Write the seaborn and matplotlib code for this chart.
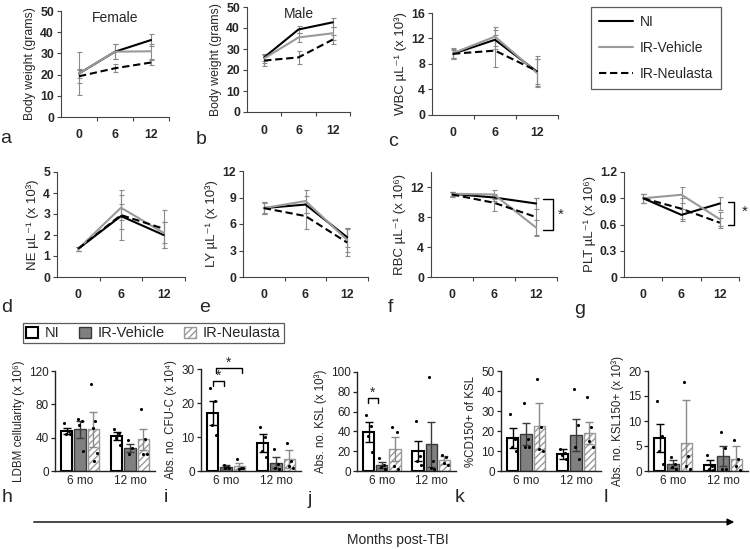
import numpy as np
import pandas as pd
import matplotlib
matplotlib.use("Agg")
import matplotlib.pyplot as plt
import seaborn as sns
from matplotlib.patches import Patch
from matplotlib.lines import Line2D

sns.set_theme(style="ticks")
plt.rcParams["font.family"] = ["Liberation Sans", "DejaVu Sans"]

GROUPS = ["NI", "IR-Vehicle", "IR-Neulasta"]
MONTHS = ["0", "6", "12"]
TIMES = ["6 mo", "12 mo"]

# ---------------- line panels (mean, sem) ----------------
bw_female = {"NI": [20.5, 30.8, 36.3], "IR-Vehicle": [20.5, 30.8, 31.0], "IR-Neulasta": [19.2, 23.0, 25.7]}
bw_female_err = {"NI": [2.0, 3.5, 3.0], "IR-Vehicle": [10.0, 3.5, 3.5], "IR-Neulasta": [3.0, 2.0, 1.0]}
bw_male = {"NI": [26.0, 39.3, 42.7], "IR-Vehicle": [25.5, 35.5, 37.5], "IR-Neulasta": [24.5, 26.0, 34.5]}
bw_male_err = {"NI": [1.5, 1.5, 2.0], "IR-Vehicle": [2.0, 2.0, 3.0], "IR-Neulasta": [2.5, 3.0, 2.0]}
wbc = {"NI": [9.6, 11.8, 6.8], "IR-Vehicle": [9.7, 12.3, 6.6], "IR-Neulasta": [9.6, 10.1, 6.9]}
wbc_err = {"NI": [0.8, 1.5, 2.0], "IR-Vehicle": [0.8, 1.5, 2.2], "IR-Neulasta": [0.6, 2.5, 2.3]}
ne = {"NI": [1.35, 2.9, 2.0], "IR-Vehicle": [1.35, 3.3, 2.1], "IR-Neulasta": [1.35, 2.95, 2.3]}
ne_err = {"NI": [0.1, 0.6, 0.6], "IR-Vehicle": [0.1, 0.6, 0.5], "IR-Neulasta": [0.1, 1.2, 0.9]}
ly = {"NI": [7.8, 8.2, 4.5], "IR-Vehicle": [7.8, 8.6, 4.2], "IR-Neulasta": [7.8, 6.9, 3.9]}
ly_err = {"NI": [0.7, 1.0, 1.1], "IR-Vehicle": [0.6, 1.3, 1.4], "IR-Neulasta": [0.7, 1.5, 1.5]}
rbc = {"NI": [11.1, 10.6, 9.8], "IR-Vehicle": [11.1, 11.0, 6.6], "IR-Neulasta": [11.0, 9.9, 8.0]}
rbc_err = {"NI": [0.3, 0.5, 0.7], "IR-Vehicle": [0.3, 0.6, 1.0], "IR-Neulasta": [0.3, 1.1, 2.5]}
plt_ = {"NI": [0.9, 0.71, 0.84], "IR-Vehicle": [0.9, 0.94, 0.66], "IR-Neulasta": [0.9, 0.78, 0.62]}
plt_err = {"NI": [0.05, 0.07, 0.07], "IR-Vehicle": [0.05, 0.09, 0.08], "IR-Neulasta": [0.05, 0.12, 0.06]}

# ---------------- bar panels: means [NI, IR-Vehicle, IR-Neulasta] ----------------
ldbm_6, ldbm_12 = [48, 50, 50], [42, 28, 38]
ldbm_sem6, ldbm_sem12 = [4, 10, 21], [5, 5, 13]
ldbm_dots6 = [[58, 48, 45, 44], [62, 60, 55, 24], [105, 60, 52, 22, 12]]
ldbm_dots12 = [[51, 46, 40, 31], [37, 28, 20], [75, 38, 20, 20]]

cfu_6, cfu_12 = [17.1, 1.2, 1.5], [8.2, 2.5, 3.5]
cfu_sem6, cfu_sem12 = [3.6, 0.5, 1.0], [2.6, 1.6, 2.7]
cfu_dots6 = [[24.5, 20.5, 13.5, 10.5], [1.8, 1.2, 0.8, 1.0], [3.5, 1.0, 0.5, 0.8]]
cfu_dots12 = [[12.8, 10.0, 6.0, 4.0], [6.5, 2.0, 1.0, 0.5], [8.2, 3.0, 1.5, 1.0]]

ksl_6, ksl_12 = [39, 6, 22], [20.5, 27, 11]
ksl_sem6, ksl_sem12 = [10, 3, 12], [10, 23, 4]
ksl_dots6 = [[57, 45, 35, 19], [13, 6, 4, 2], [44, 39, 5, 2]]
ksl_dots12 = [[51, 15, 10, 6], [95, 10, 3, 2], [16, 14, 8, 6]]

cd150_6, cd150_12 = [16.5, 18.5, 22.5], [8.5, 18, 19]
cd150_sem6, cd150_sem12 = [5, 5.5, 11.5], [2.5, 8, 5.5]
cd150_dots6 = [[28.5, 16, 12, 10], [34, 16, 12, 12], [46, 22, 11, 10]]
cd150_dots12 = [[11, 9, 8, 6], [41, 23, 12, 6], [37, 22, 15, 12]]

ksl150_6, ksl150_12 = [6.6, 1.4, 5.6], [1.2, 3.1, 2.5]
ksl150_sem6, ksl150_sem12 = [2.8, 0.8, 8.6], [1.0, 2.0, 2.6]
ksl150_dots6 = [[14.1, 7, 4, 1.5], [2.8, 1.5, 0.8, 0.5], [17.8, 3, 1, 0.5]]
ksl150_dots12 = [[3.2, 1, 0.5, 0.3], [7.8, 4.6, 0.5, 0.4], [6.2, 2.5, 1, 0.3]]

W, H = 750, 549
fig = plt.figure(figsize=(7.5, 5.49), dpi=100)


def px_axes(l, t, r, b):
    return fig.add_axes([l / W, 1 - b / H, (r - l) / W, (b - t) / H])


LINE_COLORS = {"NI": "black", "IR-Vehicle": "#9a9a9a", "IR-Neulasta": "black"}
DASHES = {"NI": "", "IR-Vehicle": "", "IR-Neulasta": (3.5, 1.8)}


def line_panel(box, means, errs, ylabel, ylim, yticks, ylabfmt, ylabsize=9.5, title=None, title_xy=None):
    ax = px_axes(*box)
    rows = []
    for g in GROUPS:
        for i, m in enumerate(MONTHS):
            rows.append({"pos": i, "value": means[g][i], "group": g})
    df = pd.DataFrame(rows)
    for g in GROUPS:
        ax.errorbar(range(3), means[g], yerr=errs[g], fmt="none", ecolor="#8a8a8a",
                    elinewidth=0.8, capsize=1.8, capthick=0.8, zorder=1)
    sns.lineplot(data=df, x="pos", y="value", hue="group", style="group",
                 hue_order=GROUPS, style_order=GROUPS, palette=LINE_COLORS,
                 dashes=DASHES, linewidth=1.5, ax=ax, legend=False, zorder=3)
    ax.set_xlim(-0.5, 2.5)
    ax.set_ylim(*ylim)
    ax.set_xticks(range(3))
    ax.set_xticklabels(MONTHS, fontweight="bold", fontsize=8.8)
    ax.tick_params(axis="x", length=0, pad=9)
    ax.set_xticks([0.5, 1.5, 2.5], minor=True)
    ax.tick_params(axis="x", which="minor", length=3, width=0.8, direction="out", color="#444")
    ax.set_yticks(yticks)
    ax.set_yticklabels([ylabfmt(v) for v in yticks], fontweight="bold", fontsize=8.8)
    ax.tick_params(axis="y", length=3, width=0.8, pad=2, color="#444")
    ax.set_xlabel("")
    ax.set_ylabel(ylabel, fontsize=ylabsize, labelpad=3)
    for s in ["top", "right"]:
        ax.spines[s].set_visible(False)
    for s in ["left", "bottom"]:
        ax.spines[s].set_linewidth(0.8)
        ax.spines[s].set_color("#444")
    if title:
        ax.text(title_xy[0], title_xy[1], title, transform=ax.transAxes, ha="center", va="top", fontsize=10)
    return ax


fint = lambda v: f"{v:g}"
ax_a = line_panel((61, 11, 169, 117), bw_female, bw_female_err, "Body weight (grams)", (0, 50),
                  [0, 10, 20, 30, 40, 50], fint, 8.8, "Female", (0.5, 1.0))
ax_b = line_panel((247, 7, 350, 112), bw_male, bw_male_err, "Body weight (grams)", (0, 50),
                  [0, 10, 20, 30, 40, 50], fint, 8.8, "Male", (0.5, 1.0))
ax_c = line_panel((432, 13, 558, 115), wbc, wbc_err, "WBC µL⁻¹ (x 10³)", (0, 16),
                  [0, 4, 8, 12, 16], fint)
ax_d = line_panel((57, 172, 185, 277), ne, ne_err, "NE µL⁻¹ (x 10³)", (0, 5),
                  [0, 1, 2, 3, 4, 5], fint)
ax_e = line_panel((243, 171, 368, 277), ly, ly_err, "LY µL⁻¹ (x 10³)", (0, 12),
                  [0, 3, 6, 9, 12], fint)
ax_f = line_panel((431, 172, 557, 277), rbc, rbc_err, "RBC µL⁻¹ (x 10⁶)", (0, 14),
                  [0, 4, 8, 12], fint)
ax_g = line_panel((624, 172, 739, 277), plt_, plt_err, "PLT µL⁻¹ (x 10⁶)", (0, 1.2),
                  [0, 0.3, 0.6, 0.9, 1.2], lambda v: "0" if v == 0 else f"{v:.1f}")

# significance brackets (f, g)
ax_f.plot([2.17, 2.4, 2.4, 2.17], [10.4, 10.4, 6.25, 6.25], color="black", lw=1, clip_on=False)
ax_f.text(2.6, 8.3, "*", fontsize=11, ha="center", va="center")
ax_g.plot([2.2, 2.37, 2.37, 2.2], [0.86, 0.86, 0.6, 0.6], color="black", lw=1, clip_on=False)
ax_g.text(2.65, 0.74, "*", fontsize=11, ha="center", va="center")

# top legend
line_handles = [Line2D([], [], color=LINE_COLORS[g], lw=1.5,
                       linestyle=(0, DASHES[g]) if DASHES[g] else "-") for g in GROUPS]
leg1 = fig.legend(line_handles, GROUPS, loc="upper left", bbox_to_anchor=(591 / W, 1 - 7 / H),
                  borderaxespad=0, frameon=True, fancybox=False, edgecolor="#333", fontsize=10,
                  handlelength=2.4, labelspacing=0.85, borderpad=0.6, handletextpad=0.5)
leg1.get_frame().set_linewidth(0.9)

# ---------------- bar panels ----------------
BAR_STYLE = {
    "NI": dict(facecolor="white", edgecolor="black", lw=1.5, hatch=None),
    "IR-Vehicle": dict(facecolor="#808080", edgecolor="#3a3a3a", lw=1.0, hatch=None),
    "IR-Neulasta": dict(facecolor="white", edgecolor="#9a9a9a", lw=1.0, hatch="/////"),
}
ERR_COLOR = {"NI": "black", "IR-Vehicle": "#3a3a3a", "IR-Neulasta": "#8a8a8a"}
DOT_OFFSETS = [-0.22, 0.18, -0.05, 0.28, 0.05]


def bar_panel(box, m6, m12, s6, s12, d6, d12, ylabel, yticks):
    ax = px_axes(*box)
    df = pd.DataFrame({"time": [TIMES[0]] * 3 + [TIMES[1]] * 3,
                       "group": GROUPS * 2, "value": list(m6) + list(m12)})
    sns.barplot(data=df, x="time", y="value", hue="group", hue_order=GROUPS, order=TIMES,
                errorbar=None, width=0.8, gap=0.15, ax=ax, legend=False)
    means = [m6, m12]
    sems = [s6, s12]
    dots = [d6, d12]
    conts = list(ax.containers)[:3]
    for gi, cont in enumerate(conts):
        g = GROUPS[gi]
        st = BAR_STYLE[g]
        for ti, bar in enumerate(cont):
            bar.set_facecolor(st["facecolor"])
            bar.set_edgecolor(st["edgecolor"])
            bar.set_linewidth(st["lw"])
            if st["hatch"]:
                bar.set_hatch(st["hatch"])
            cx = bar.get_x() + bar.get_width() / 2
            bw = bar.get_width()
            ax.errorbar(cx, means[ti][gi], yerr=sems[ti][gi], fmt="none", ecolor=ERR_COLOR[g],
                        elinewidth=1.0, capsize=3, capthick=1.0, zorder=4)
            dv = dots[ti][gi]
            xs = [cx + DOT_OFFSETS[k % len(DOT_OFFSETS)] * bw for k in range(len(dv))]
            ax.scatter(xs, dv, s=5, color="black", zorder=5, linewidths=0)
    ax.set_xlim(-0.5, 1.5)
    ax.set_ylim(0, yticks[-1])
    ax.set_yticks(yticks)
    ax.set_yticklabels([f"{v:g}" for v in yticks], fontsize=8.5, color="#222")
    ax.tick_params(axis="y", length=3, width=0.9, pad=1.5, color="#222")
    ax.tick_params(axis="x", length=0, pad=3, labelsize=8.5, labelcolor="#222")
    ax.set_xlabel("")
    ax.set_ylabel(ylabel, fontsize=8.3, labelpad=3, color="#222")
    for s in ["top", "right"]:
        ax.spines[s].set_visible(False)
    for s in ["left", "bottom"]:
        ax.spines[s].set_linewidth(1.0)
        ax.spines[s].set_color("#222")
    return ax


ax_h = bar_panel((55, 371, 155, 471), ldbm_6, ldbm_12, ldbm_sem6, ldbm_sem12, ldbm_dots6, ldbm_dots12,
                 "LDBM cellularity (x 10⁶)", [0, 40, 80, 120])
ax_i = bar_panel((201, 369, 301, 471), cfu_6, cfu_12, cfu_sem6, cfu_sem12, cfu_dots6, cfu_dots12,
                 "Abs. no. CFU-C (x 10⁴)", [0, 10, 20, 30])
ax_j = bar_panel((357, 372, 456, 471), ksl_6, ksl_12, ksl_sem6, ksl_sem12, ksl_dots6, ksl_dots12,
                 "Abs. no. KSL (x 10³)", [0, 20, 40, 60, 80, 100])
ax_k = bar_panel((501, 371, 601, 471), cd150_6, cd150_12, cd150_sem6, cd150_sem12, cd150_dots6, cd150_dots12,
                 "%CD150+ of KSL", [0, 10, 20, 30, 40, 50])
ax_l = bar_panel((648, 371, 748, 471), ksl150_6, ksl150_12, ksl150_sem6, ksl150_sem12, ksl150_dots6, ksl150_dots12,
                 "Abs. no. KSL150+ (x 10³)", [0, 5, 10, 15, 20])

# significance brackets in bar panels
ax_i.plot([-0.26, -0.26, -0.04, -0.04], [25.0, 26.5, 26.5, 25.0], color="black", lw=1, clip_on=False)
ax_i.text(-0.15, 28.0, "*", fontsize=10, ha="center", va="center")
ax_i.plot([-0.2, -0.2, 0.32, 0.32], [28.8, 30.3, 30.3, 28.8], color="black", lw=1, clip_on=False)
ax_i.text(0.06, 31.8, "*", fontsize=10, ha="center", va="center")
ax_j.plot([-0.28, -0.28, -0.08, -0.08], [69, 74, 74, 69], color="black", lw=1, clip_on=False)
ax_j.text(-0.18, 79, "*", fontsize=10, ha="center", va="center")

# bottom legend
bar_handles = [Patch(facecolor=BAR_STYLE[g]["facecolor"], edgecolor=BAR_STYLE[g]["edgecolor"],
                     linewidth=BAR_STYLE[g]["lw"], hatch=BAR_STYLE[g]["hatch"]) for g in GROUPS]
leg2 = fig.legend(bar_handles, GROUPS, loc="upper left", bbox_to_anchor=(23 / W, 1 - 323 / H),
                  borderaxespad=0, ncol=3, frameon=True, fancybox=False, edgecolor="#333",
                  fontsize=10.5, handlelength=0.8, handleheight=0.8, columnspacing=1.3,
                  borderpad=0.22, handletextpad=0.5)
leg2.get_frame().set_linewidth(0.9)

# panel letters
letters = {"a": (6, 138), "b": (201, 140), "c": (393, 141),
           "d": (7, 307), "e": (205, 307), "f": (390, 307), "g": (580, 309),
           "h": (7, 498), "i": (166, 498), "j": (310, 499), "k": (460, 498), "l": (606, 498)}
for k, (x, y) in letters.items():
    fig.text(x / W, 1 - y / H, k, fontsize=14, ha="center", va="center")

# time arrow
fig.add_artist(matplotlib.patches.FancyArrowPatch((31 / W, 1 - 522 / H), (737 / W, 1 - 522 / H),
                                                  transform=fig.transFigure, arrowstyle="-|>",
                                                  mutation_scale=10, color="black", lw=1.0))
fig.text(398 / W, 1 - 540 / H, "Months post-TBI", fontsize=10, ha="center", va="center")

fig.savefig("out.png", dpi=100)
